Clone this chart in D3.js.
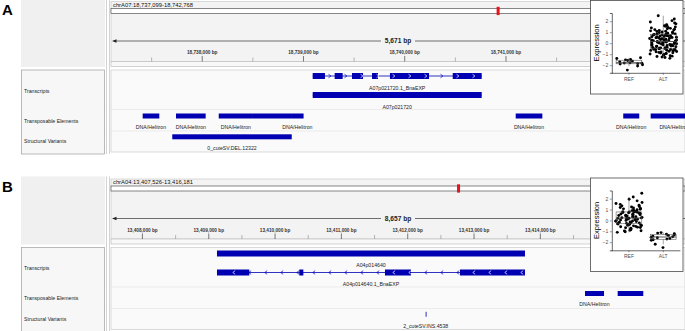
<!DOCTYPE html>
<html>
<head>
<meta charset="utf-8">
<script src="https://cdn.jsdelivr.net/npm/d3@7"></script>
<style>
  html, body { margin: 0; padding: 0; background: #fff; }
  svg { display: block; font-family: "Liberation Sans", Arial, Helvetica, sans-serif; }
</style>
</head>
<body>
<svg id="chart" width="685" height="331"></svg>
<script>
// ---------- panel A ----------
const locusA = ["chrA07", 18737099, 18742768]
const chromLenA = 27890000
const transcriptA = { name: "A07p021720.1_BnaEXP", strand: "+",
  exons: [[18739091, 18739212], [18739308, 18739387], [18739479, 18739588],
          [18739677, 18739736], [18739854, 18740240], [18740474, 18740760]] }
const geneA = { name: "A07p021720", strand: null, exons: [[18739091, 18740760]] }
const teA = [
  [18737412, 18737576, "DNA/Helitron"], [18737741, 18738034, "DNA/Helitron"],
  [18738163, 18738501, "DNA/Helitron"], [18738501, 18738877, ""],
  [18738877, 18739001, "DNA/Helitron"], [18741096, 18741359, "DNA/Helitron"],
  [18742158, 18742316, "DNA/Helitron"], [18742429, 18742900, "DNA/Helitron"]
]
const svA = [[18737704, 18738884, "0_cuteSV.DEL.12322"]]
const groupsA = ["REF", "ALT"]
const refA = [-1.33, -1.4, -1.48, -1.52, -1.58, -1.63, -1.7, -1.8, -1.78, -1.82, -1.86, -1.9, -1.96, -2.08, -2.45]
const altA = [
  -1.38, -1.31, -1.27, -1.22, -1.18, -1.15, -1.09, -1.06, -1.02, -0.98, -0.96, -0.93, -0.9, -0.87, -0.84,
  -0.81, -0.79, -0.76, -0.73, -0.71, -0.68, -0.66, -0.64, -0.61, -0.59, -0.57, -0.55, -0.54, -0.52, -0.51,
  -0.49, -0.46, -0.44, -0.41, -0.39, -0.36, -0.33, -0.31, -0.28, -0.26, -0.24, -0.21, -0.19, -0.17, -0.14,
  -0.12, -0.1, -0.07, -0.05, -0.03, -0.01, 0.01, 0.03, 0.05, 0.07, 0.08, 0.1, 0.11, 0.13, 0.14,
  0.16, 0.18, 0.2, 0.22, 0.25, 0.27, 0.29, 0.31, 0.33, 0.36, 0.38, 0.4, 0.42, 0.45, 0.47,
  0.49, 0.52, 0.54, 0.56, 0.58, 0.61, 0.63, 0.65, 0.67, 0.7, 0.72, 0.74, 0.76, 0.78, 0.79,
  0.82, 0.85, 0.87, 0.9, 0.93, 0.96, 0.99, 1.02, 1.06, 1.09, 1.12, 1.15, 1.19, 1.23, 1.27,
  1.31, 1.35, 1.39, 1.44, 1.48, 1.53, 1.58, 1.63, 1.69, 1.76, 1.84, 1.93, 2.05, 2.2, 2.5
]

// ---------- panel B ----------
const locusB = ["chrA04", 13407526, 13416181]
const chromLenB = 22240000
const geneB = { name: "A04p014640", strand: null, exons: [[13409124, 13413768]] }
const transcriptB = { name: "A04p014640.1_BnaEXP", strand: "-",
  exons: [[13409124, 13409611], [13410365, 13410426], [13411657, 13412049], [13412788, 13413768]] }
const teB = [[13414673, 13414960, "DNA/Helitron"], [13415166, 13415552, ""]]
const svB = [[13412271, 13412271, "2_cuteSV.INS.4538"]]
const groupsB = ["REF", "ALT"]
const refB = [
  -1.1, -1.05, -0.98, -0.95, -0.9, -0.85, -0.8, -0.77, -0.72, -0.68, -0.65, -0.62, -0.58, -0.55, -0.5,
  -0.47, -0.44, -0.41, -0.38, -0.36, -0.34, -0.33,
  -0.3, -0.27, -0.24, -0.2, -0.17, -0.14, -0.11, -0.08, -0.05, -0.02, 0.0, 0.03, 0.05, 0.08,
  0.1, 0.12, 0.14, 0.16, 0.18, 0.19, 0.2, 0.21,
  0.23, 0.25, 0.28, 0.3, 0.33, 0.36, 0.39, 0.42, 0.45, 0.48, 0.5, 0.53, 0.56, 0.59,
  0.62, 0.65, 0.68, 0.7, 0.72, 0.74, 0.76, 0.77,
  0.8, 0.83, 0.86, 0.9, 0.94, 0.98, 1.02, 1.06, 1.1, 1.14, 1.18, 1.23, 1.28, 1.34,
  1.4, 1.47, 1.55, 1.65, 1.8, 1.95, 2.15, 2.5
]
const altB = [-1.12, -1.17, -1.22, -1.28, -1.33, -1.38, -1.45, -1.5, -1.55, -1.6, -1.66, -1.72, -1.78, -1.82, -2.2, -2.5]

const trackNames = ["Transcripts", "Transposable Elements", "Structural Variants"]

const panels = [
  { letter: "A", top: 0, locus: locusA, chromLen: chromLenA, rows: [transcriptA, geneA],
    te: teA, sv: svA, groups: groupsA, expr: [refA, altA] },
  { letter: "B", top: 177.5, locus: locusB, chromLen: chromLenB, rows: [geneB, transcriptB],
    te: teB, sv: svB, groups: groupsB, expr: [refB, altB] }
]

const BLUE = "#0000b2"
const INSET_X = 590.5
const svg = d3.select("#chart")
const fmt = d3.format(",")

// stable horizontal jitter for the dot strips
const jitter = (i, k) => {
  const s = Math.sin((i + 1) * 12.9898 + k * 78.233) * 43758.5453
  return s - Math.floor(s) - 0.5
}

panels.forEach((p, pi) => {
  const g = svg.append("g").attr("transform", `translate(0,${p.top})`)
  const [chrom, start, end] = p.locus
  const x = d3.scaleLinear().domain([start, end]).range([111, 685])

  // panel letter
  g.append("text").attr("x", 2).attr("y", 14.5)
    .attr("font-size", 15).attr("font-weight", 700).text(p.letter)

  // name column (upper grey part + lower boxed part)
  g.append("rect").attr("x", 21).attr("y", -1).attr("width", 84).attr("height", 68).attr("fill", "#f0f0f0")
  g.append("rect").attr("x", 21.5).attr("y", 70).attr("width", 83).attr("height", 84)
    .attr("fill", "#f7f7f7").attr("stroke", "#a8a8a8").attr("stroke-width", 0.8)
  ;[106.5, 109.5].forEach(vx => g.append("line").attr("x1", vx).attr("x2", vx)
    .attr("y1", -1).attr("y2", 154).attr("stroke", "#c8c8c8").attr("stroke-width", 0.8))

  // ruler panel
  g.append("rect").attr("x", 111).attr("y", 1.5).attr("width", 574).attr("height", 60)
    .attr("fill", "#f3f3f3").attr("stroke", "#c4c4c4").attr("stroke-width", 0.6)
  g.append("rect").attr("x", 111).attr("y", 61.5).attr("width", 574).attr("height", 5)
    .attr("fill", "#f8f8f8").attr("stroke", "#b4b4b4").attr("stroke-width", 0.6)

  g.append("text").attr("x", 113).attr("y", 6.9).attr("font-size", 5.8).attr("fill", "#111")
    .text(`${chrom}:${fmt(start)}-${fmt(end)}`)

  // chromosome ideogram with current-view marker
  const cx = d3.scaleLinear().domain([0, p.chromLen]).range([111, 685])
  g.append("rect").attr("x", 111).attr("y", 8.5).attr("width", 574).attr("height", 5)
    .attr("fill", "#fff").attr("stroke", "#555").attr("stroke-width", 0.7)
  g.append("rect").attr("x", cx(start)).attr("y", 6.8)
    .attr("width", Math.max(3, cx(end) - cx(start))).attr("height", 8.3).attr("fill", "#e8141c")

  // span line with bp text
  const mid = (x(start) + x(end)) / 2
  const spanText = `${fmt(end - start + 2)} bp`
  g.append("line").attr("x1", 114).attr("x2", mid - 17).attr("y1", 41).attr("y2", 41)
    .attr("stroke", "#333").attr("stroke-width", 0.7)
  g.append("line").attr("x1", mid + 17).attr("x2", 685).attr("y1", 41).attr("y2", 41)
    .attr("stroke", "#333").attr("stroke-width", 0.7)
  g.append("path").attr("d", "M112,41 L116.5,39.3 L116.5,42.7 Z").attr("fill", "#222")
  g.append("text").attr("x", mid).attr("y", 43.4).attr("text-anchor", "middle")
    .attr("font-size", 6.6).attr("font-weight", 700).attr("fill", "#222").text(spanText)

  // ticks (labels that would sit under the inset are not drawn)
  const ticks = d3.range(Math.ceil(start / 500) * 500, end, 500)
  ticks.forEach(t => {
    const major = t % 1000 === 0
    g.append("line").attr("x1", x(t)).attr("x2", x(t))
      .attr("y1", major ? 56 : 57.5).attr("y2", 61.5)
      .attr("stroke", major ? "#444" : "#999").attr("stroke-width", 0.7)
    if (major && x(t) + 16 < INSET_X) {
      g.append("text").attr("x", x(t)).attr("y", 54).attr("text-anchor", "middle")
        .attr("font-size", 4.7).attr("font-weight", 700).attr("fill", "#333")
        .text(`${fmt(t)} bp`)
    }
  })

  // data track area
  g.append("rect").attr("x", 111).attr("y", 70).attr("width", 574).attr("height", 82)
    .attr("fill", "#fafafa").attr("stroke", "#c4c4c4").attr("stroke-width", 0.6)
  ;[109.5, 131].forEach(sy => g.append("line").attr("x1", 111).attr("x2", 685)
    .attr("y1", sy).attr("y2", sy).attr("stroke", "#e4e4e4").attr("stroke-width", 0.7))

  const nameY = [92.9, 122.9, 143]
  trackNames.forEach((n, i) => g.append("text").attr("x", 24).attr("y", nameY[i])
    .attr("font-size", 5.2).attr("fill", "#222").text(n))

  // transcripts
  const rowY = [76, 95]
  p.rows.forEach((tr, i) => {
    const cy = rowY[i]
    const s = tr.exons[0][0], e = tr.exons[tr.exons.length - 1][1]
    g.append("line").attr("x1", x(s)).attr("x2", x(e)).attr("y1", cy).attr("y2", cy)
      .attr("stroke", BLUE).attr("stroke-width", 0.8)
    g.selectAll(null).data(tr.exons).join("rect")
      .attr("x", d => x(d[0])).attr("y", cy - 3)
      .attr("width", d => Math.max(1, x(d[1]) - x(d[0]))).attr("height", 6)
      .attr("fill", BLUE)
    if (tr.strand) {
      const dir = tr.strand === "+" ? 1 : -1
      for (let ax = x(s) + 17; ax < x(e) - 1; ax += 16) {
        const bp = x.invert(ax)
        const inExon = tr.exons.some(d => bp >= d[0] && bp <= d[1])
        g.append("path")
          .attr("d", `M${ax - 1.2 * dir},${cy - 1.8} L${ax + 1.2 * dir},${cy} L${ax - 1.2 * dir},${cy + 1.8}`)
          .attr("fill", "none").attr("stroke", inExon ? "#fff" : BLUE).attr("stroke-width", 0.7)
      }
    }
    g.append("text").attr("x", (x(s) + x(e)) / 2).attr("y", cy + 13.6).attr("text-anchor", "middle")
      .attr("font-size", 5.2).attr("fill", "#222").text(tr.name)
  })

  // transposable elements
  g.selectAll(null).data(p.te).join("rect")
    .attr("x", d => x(d[0])).attr("y", 113.5)
    .attr("width", d => x(d[1]) - x(d[0])).attr("height", 5).attr("fill", BLUE)
  g.selectAll(null).data(p.te.filter(d => d[2])).join("text")
    .attr("x", d => (x(d[0]) + x(d[1])) / 2).attr("y", 128.9).attr("text-anchor", "middle")
    .attr("font-size", 5.2).attr("fill", "#222").text(d => d[2])

  // structural variants
  g.selectAll(null).data(p.sv).join("rect")
    .attr("x", d => x(d[0])).attr("y", 134.3)
    .attr("width", d => Math.max(0.8, x(d[1]) - x(d[0]))).attr("height", 5).attr("fill", BLUE)
  g.selectAll(null).data(p.sv).join("text")
    .attr("x", d => (x(d[0]) + x(d[1])) / 2).attr("y", 150.2).attr("text-anchor", "middle")
    .attr("font-size", 5.2).attr("fill", "#222").text(d => d[2])

  // ---- expression inset ----
  const inset = g.append("g")
  inset.append("rect").attr("x", INSET_X).attr("y", 0.5).attr("width", 92.5).attr("height", 93.5)
    .attr("fill", "#fff").attr("stroke", "#4a4a4a").attr("stroke-width", 0.8)

  const all = p.expr.flat()
  const [lo, hi] = d3.extent(all)
  const pad = (hi - lo) * 0.05
  const y = d3.scaleLinear().domain([lo - pad, hi + pad]).range([72.8, 13])
  const xb = d3.scaleBand().domain(p.groups).range([611.8, 680.4]).paddingOuter(0.1).paddingInner(0.2)
  const cxOf = gname => xb(gname) + xb.bandwidth() / 2
  const unit = cxOf(p.groups[1]) - cxOf(p.groups[0])

  // axes
  const yAxis = d3.axisLeft(y).tickValues([-2, -1, 0, 1, 2]).tickSize(2).tickPadding(1.5)
  const ya = inset.append("g").attr("transform", "translate(611.8,0)").call(yAxis)
  ya.select(".domain").attr("stroke", "#000").attr("stroke-width", 0.6)
  ya.selectAll(".tick line").attr("stroke", "#333").attr("stroke-width", 0.5)
  ya.selectAll(".tick text").attr("font-size", 5).attr("fill", "#4d4d4d")
    .attr("font-family", "Liberation Sans, Arial, sans-serif")
    .text(d => d < 0 ? "\u2212" + Math.abs(d) : d)

  const xAxis = d3.axisBottom(xb).tickSize(2).tickPadding(2.5)
  const xa = inset.append("g").attr("transform", "translate(0,72.8)").call(xAxis)
  xa.select(".domain").attr("d", "M611.8,0.5H680.4").attr("stroke", "#000").attr("stroke-width", 0.6)
  xa.selectAll(".tick line").attr("stroke", "#333").attr("stroke-width", 0.5)
  xa.selectAll(".tick text").attr("font-size", 5).attr("fill", "#4d4d4d")
    .attr("font-family", "Liberation Sans, Arial, sans-serif")

  inset.append("text").attr("transform", "translate(598.8,42.9) rotate(-90)")
    .attr("text-anchor", "middle").attr("font-size", 7.5).attr("fill", "#000").text("Expression")

  // jittered points first, then box outlines on top
  p.expr.forEach((vals, gi) => {
    const c = cxOf(p.groups[gi])
    inset.append("g").selectAll("circle").data(vals).join("circle")
      .attr("cx", (d, i) => c + jitter(i, gi + pi * 2) * 0.8 * unit)
      .attr("cy", d => y(d))
      .attr("r", 1.45).attr("fill", "#000")
  })
  p.expr.forEach((vals, gi) => {
    const sorted = vals.slice().sort(d3.ascending)
    const q1 = d3.quantile(sorted, 0.25), med = d3.quantile(sorted, 0.5), q3 = d3.quantile(sorted, 0.75)
    const iqr = q3 - q1
    const wLo = d3.min(sorted.filter(v => v >= q1 - 1.5 * iqr))
    const wHi = d3.max(sorted.filter(v => v <= q3 + 1.5 * iqr))
    const c = cxOf(p.groups[gi]), bw = 0.75 * unit
    const bg = inset.append("g").attr("stroke", "#444").attr("stroke-width", 0.5).attr("fill", "none")
    bg.append("line").attr("x1", c).attr("x2", c).attr("y1", y(wHi)).attr("y2", y(q3))
    bg.append("line").attr("x1", c).attr("x2", c).attr("y1", y(q1)).attr("y2", y(wLo))
    bg.append("rect").attr("x", c - bw / 2).attr("y", y(q3)).attr("width", bw)
      .attr("height", y(q1) - y(q3))
    bg.append("line").attr("x1", c - bw / 2).attr("x2", c + bw / 2)
      .attr("y1", y(med)).attr("y2", y(med)).attr("stroke-width", 0.9)
  })
})
</script>
</body>
</html>
